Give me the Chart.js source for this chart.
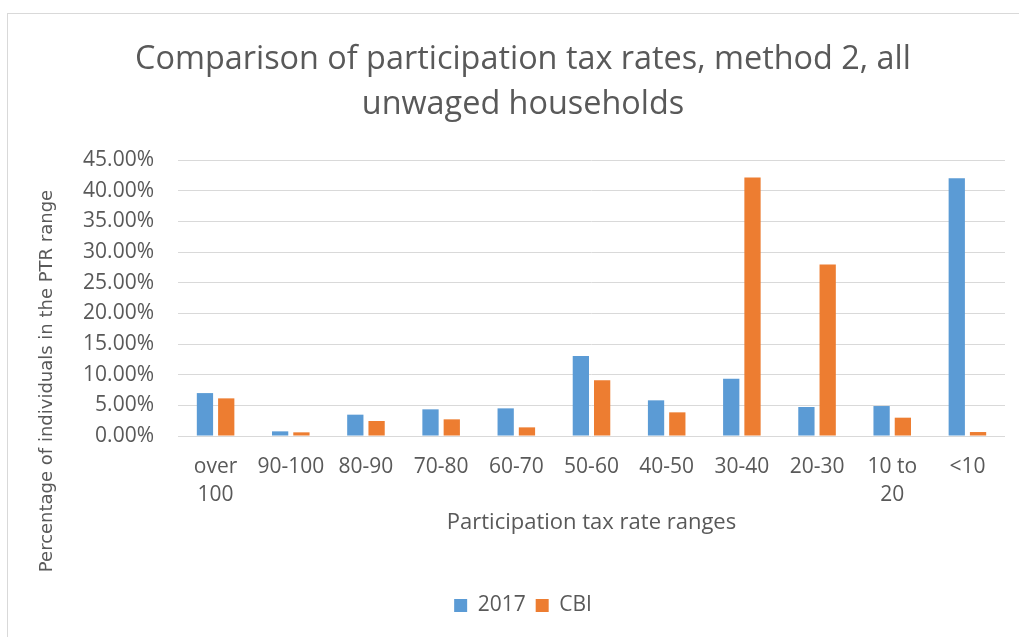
<!DOCTYPE html>
<html lang="en">
<head>
  <meta charset="UTF-8">
  <title>Comparison of participation tax rates</title>
  <script src="https://cdn.jsdelivr.net/npm/chart.js"></script>
  <style>
    body {
      margin: 0;
      background-color: #ffffff;
      overflow: hidden;
    }

    #frame {
      position: absolute;
      left: 7px;
      top: 13px;
      width: 1100px;
      height: 700px;
      border: 1px solid #d9d9d9;
    }

    #ptrChart {
      position: absolute;
      left: 0;
      top: 0;
    }
  </style>
</head>
<body>
  <div id="frame"></div>
  <canvas id="ptrChart" width="1019" height="637"></canvas>

  <script>
    // PTR ranges on the x axis
    const categories = [['over', '100'], '90-100', '80-90', '70-80', '60-70', '50-60',
      '40-50', '30-40', '20-30', ['10 to', '20'], '<10'];

    // share of individuals in each range, in percent
    const values2017 = [7.0, 0.76, 3.48, 4.35, 4.51, 13.04, 5.82, 9.35, 4.73, 4.89, 42.03];
    const valuesCBI = [6.14, 0.6, 2.45, 2.72, 1.41, 9.08, 3.86, 42.16, 27.96, 2.99, 0.65];

    const yMin = 0;
    const yMax = 45;
    const yStep = 5;

    const textColor = '#595959';
    const gridColor = '#d9d9d9';

    // y axis title sits lower than the axis middle in the original, so draw it ourselves
    const yTitlePlugin = {
      id: 'yTitle',
      afterDraw(chart) {
        const ctx = chart.ctx;
        ctx.save();
        ctx.translate(47, 381);
        ctx.rotate(-Math.PI / 2);
        ctx.font = '18px "DejaVu Sans"';
        ctx.fillStyle = textColor;
        ctx.textAlign = 'center';
        ctx.textBaseline = 'middle';
        ctx.fillText('Percentage of individuals in the PTR range', 0, 0);
        ctx.restore();
      }
    };

    const ctx = document.getElementById('ptrChart').getContext('2d');
    new Chart(ctx, {
      type: 'bar',
      data: {
        labels: categories,
        datasets: [{
          label: '2017',
          data: values2017,
          backgroundColor: '#5b9bd5',
          borderWidth: 0
        }, {
          label: 'CBI',
          data: valuesCBI,
          backgroundColor: '#ed7d31',
          borderWidth: 0
        }]
      },
      options: {
        responsive: false,
        animation: false,
        devicePixelRatio: 1,
        categoryPercentage: 0.566,
        barPercentage: 0.765,
        layout: {
          padding: { top: 37, left: 41, right: 14, bottom: 11 }
        },
        plugins: {
          title: {
            display: true,
            text: ['Comparison of participation tax rates, method 2, all', 'unwaged households'],
            color: textColor,
            font: { family: '"Open Sans"', size: 32.4, weight: 'normal', lineHeight: 1.39 },
            padding: { top: 0, bottom: 33 }
          },
          legend: {
            position: 'bottom',
            labels: {
              color: textColor,
              font: { family: '"Open Sans"', size: 21 },
              boxWidth: 13,
              boxHeight: 13,
              padding: 10
            }
          },
          tooltip: { enabled: false }
        },
        scales: {
          x: {
            grid: { display: false, drawTicks: false },
            border: { display: false },
            ticks: {
              color: textColor,
              font: { family: '"Open Sans"', size: 21, lineHeight: 1.333 },
              padding: 17,
              maxRotation: 0,
              autoSkip: false
            },
            title: {
              display: true,
              text: 'Participation tax rate ranges',
              color: textColor,
              font: { family: '"Open Sans"', size: 22, lineHeight: 1.2 },
              padding: { top: -16, bottom: 48.6 }
            }
          },
          y: {
            min: yMin,
            max: yMax,
            afterFit: function(axis) {
              axis.width = 137;
            },
            grid: {
              color: gridColor,
              lineWidth: 1,
              drawTicks: false
            },
            border: { display: false },
            ticks: {
              stepSize: yStep,
              autoSkip: false,
              color: textColor,
              font: { family: '"Open Sans"', size: 21 },
              padding: 24,
              callback: function(value) {
                return value.toFixed(2) + '%';
              }
            }
          }
        }
      },
      plugins: [yTitlePlugin]
    });
  </script>
</body>
</html>
